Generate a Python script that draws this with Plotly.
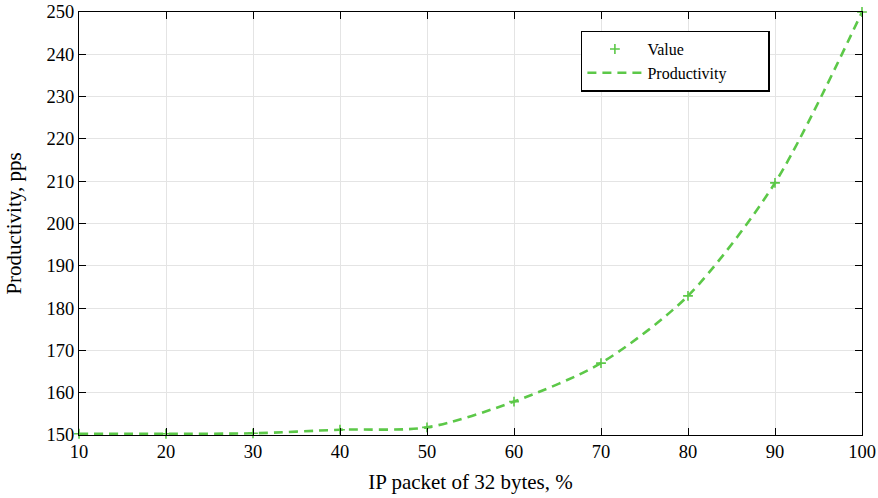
import plotly.graph_objects as go

x_vals = [10, 20, 30, 40, 50, 60, 70, 80, 90, 100]
y_vals = [150.3, 150.3, 150.4, 151.25, 151.8, 157.9, 167.0, 182.9, 209.6, 250.0]

green = "rgb(92,200,72)"
font_family = "Liberation Serif, Times New Roman, serif"
pad = "\u00a0" * 9

fig = go.Figure()
fig.add_trace(go.Scatter(
    x=x_vals, y=y_vals, mode="markers", name="Value" + pad,
    marker=dict(symbol="cross-thin", size=7, line=dict(color=green, width=1.6), color=green),
    cliponaxis=False,
))
fig.add_trace(go.Scatter(
    x=x_vals, y=y_vals, mode="lines", name="Productivity" + pad,
    line=dict(color=green, width=2.6, dash="9px,6px", shape="spline", smoothing=0.8),
    cliponaxis=False,
))

axis_common = dict(
    showline=True, linecolor="black", linewidth=1.3, mirror="ticks",
    ticks="inside", ticklen=7, tickcolor="black", tickwidth=1.2,
    showgrid=True, gridcolor="rgb(228,228,228)", gridwidth=1,
    zeroline=False, automargin=False, ticklabeloverflow="allow",
    tickfont=dict(family=font_family, size=18.5, color="black"),
)

fig.update_layout(
    width=878, height=498,
    margin=dict(l=79, r=16, t=12, b=63),
    paper_bgcolor="white", plot_bgcolor="white",
    font=dict(family=font_family, color="black"),
    xaxis=dict(range=[10, 100], tickvals=list(range(10, 101, 10)),
               title=dict(text="IP packet of 32 bytes, %", font=dict(family=font_family, size=21), standoff=12),
               **axis_common),
    yaxis=dict(range=[150, 250], tickvals=list(range(150, 251, 10)),
               title=dict(text="Productivity, pps", font=dict(family=font_family, size=21), standoff=19),
               **axis_common),
    legend=dict(x=0.641, y=0.956, xanchor="left", yanchor="top",
                bordercolor="black", borderwidth=1.5, bgcolor="white",
                font=dict(family=font_family, size=16),
                tracegroupgap=0, itemwidth=55),
    showlegend=True,
)

fig.write_html("out.html", config={"displayModeBar": False},
               post_script="document.body.style.margin='0';")
